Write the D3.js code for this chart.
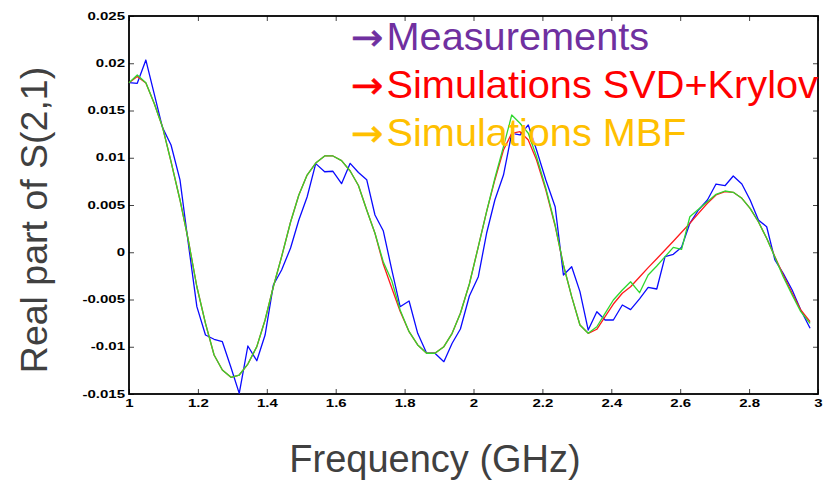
<!DOCTYPE html>
<html>
<head>
<meta charset="utf-8">
<script src="https://cdn.jsdelivr.net/npm/d3@7"></script>
<style>
  html, body { margin: 0; padding: 0; background: #fff; }
  svg { display: block; }
</style>
</head>
<body>
<svg id="chart" width="825" height="484"></svg>
<script>
// ---- data ----
const freq = [1.000,1.024,1.049,1.073,1.097,1.122,1.148,1.172,1.197,1.222,
  1.247,1.271,1.296,1.320,1.345,1.371,1.395,1.419,1.443,1.469,
  1.493,1.517,1.542,1.568,1.592,1.617,1.642,1.666,1.690,1.714,
  1.738,1.763,1.787,1.813,1.838,1.864,1.888,1.914,1.938,1.962,
  1.988,2.014,2.038,2.062,2.087,2.111,2.135,2.159,2.183,2.210,
  2.237,2.261,2.285,2.309,2.333,2.358,2.382,2.406,2.432,2.456,
  2.482,2.507,2.532,2.556,2.580,2.604,2.628,2.653,2.679,2.704,
  2.730,2.754,2.779,2.803,2.827,2.851,2.875,2.899,2.925,2.950,2.977];

const measurements = [0.01794,0.01788,0.02034,0.01678,0.01322,0.01135,0.00765,0.00098,-0.00576,-0.00876,
  -0.00921,-0.00947,-0.01220,-0.01493,-0.00992,-0.01148,-0.00876,-0.00347,-0.00188,0.00045,
  0.00341,0.00585,0.00938,0.00852,0.00857,0.00726,0.00941,0.00844,0.00768,0.00394,
  0.00228,-0.00188,-0.00576,-0.00516,-0.00858,-0.01069,-0.01069,-0.01158,-0.00963,-0.00812,
  -0.00463,-0.00259,0.00201,0.00553,0.00817,0.01259,0.01241,0.01347,0.01082,0.00765,
  0.00482,-0.00241,-0.00153,-0.00417,-0.00823,-0.00629,-0.00717,-0.00717,-0.00558,-0.00607,
  -0.00493,-0.00371,-0.00389,-0.00047,-0.00022,0.00052,0.00306,0.00447,0.00553,0.00722,
  0.00704,0.00807,0.00722,0.00553,0.00341,0.00270,-0.00082,-0.00223,-0.00399,-0.00611,-0.00805];

const svdKrylov = [0.01794,0.01860,0.01791,0.01576,0.01329,0.00958,0.00553,0.00130,-0.00365,-0.00752,
  -0.01087,-0.01246,-0.01323,-0.01299,-0.01183,-0.00999,-0.00717,-0.00365,-0.00047,0.00320,
  0.00606,0.00817,0.00944,0.01019,0.01019,0.00969,0.00860,0.00706,0.00447,0.00201,
  -0.00124,-0.00381,-0.00624,-0.00841,-0.00981,-0.01069,-0.01069,-0.00999,-0.00858,-0.00646,
  -0.00336,0.00059,0.00429,0.00765,0.01082,0.01259,0.01276,0.01188,0.00976,0.00659,
  0.00278,-0.00135,-0.00470,-0.00770,-0.00858,-0.00815,-0.00682,-0.00548,-0.00434,-0.00365,
  -0.00262,-0.00163,-0.00069,0.00024,0.00117,0.00211,0.00306,0.00412,0.00518,0.00606,
  0.00641,0.00634,0.00571,0.00465,0.00323,0.00148,-0.00047,-0.00241,-0.00434,-0.00611,-0.00735];

const mbf = [0.01794,0.01876,0.01794,0.01576,0.01329,0.00958,0.00553,0.00130,-0.00365,-0.00752,
  -0.01087,-0.01246,-0.01323,-0.01299,-0.01183,-0.00999,-0.00717,-0.00365,-0.00047,0.00320,
  0.00606,0.00817,0.00944,0.01019,0.01019,0.00969,0.00860,0.00706,0.00447,0.00201,
  -0.00100,-0.00304,-0.00611,-0.00841,-0.00981,-0.01069,-0.01069,-0.00999,-0.00858,-0.00646,
  -0.00336,0.00059,0.00429,0.00783,0.01117,0.01452,0.01365,0.01259,0.01011,0.00677,
  0.00288,-0.00135,-0.00470,-0.00770,-0.00858,-0.00788,-0.00646,-0.00505,-0.00399,-0.00312,
  -0.00428,-0.00241,-0.00146,-0.00047,0.00052,0.00031,0.00376,0.00455,0.00535,0.00613,
  0.00648,0.00634,0.00571,0.00465,0.00323,0.00148,-0.00053,-0.00259,-0.00452,-0.00629,-0.00752];

const xTicks = [1, 1.2, 1.4, 1.6, 1.8, 2, 2.2, 2.4, 2.6, 2.8, 3];
const xTickLabels = ["1","1.2","1.4","1.6","1.8","2","2.2","2.4","2.6","2.8","3"];
const yTicks = [0.025, 0.02, 0.015, 0.01, 0.005, 0, -0.005, -0.01, -0.015];
const yTickLabels = ["0.025","0.02","0.015","0.01","0.005","0","-0.005","-0.01","-0.015"];

const legendArrow = "\u2192";
const legendLabels = ["Measurements", "Simulations SVD+Krylov", "Simulations MBF"];
const legendColors = ["#7030A0", "#FF0000", "#FFC000"];
const xTitle = "Frequency (GHz)";
const yTitle = "Real part of S(2,1)";

// ---- drawing ----
const svg = d3.select("#chart");
svg.append("rect").attr("width", 825).attr("height", 484).attr("fill", "#fff");

const L = 129, R = 818, T = 16, B = 394;
const x = d3.scaleLinear().domain([1, 3]).range([L, R]);
const y = d3.scaleLinear().domain([-0.015, 0.025]).range([B, T]);

const SX = 1.5;
const tickFont = "'Liberation Sans', Arial, Helvetica, sans-serif";

// bottom axis
const gx = svg.append("g").attr("transform", `translate(0,${B})`)
  .call(d3.axisBottom(x).tickValues(xTicks).tickFormat((d, i) => xTickLabels[i])
    .tickSizeInner(-5).tickSizeOuter(0).tickPadding(6));
gx.select(".domain").remove();
gx.selectAll(".tick line").attr("stroke", "#444");
gx.selectAll(".tick text")
  .attr("font-family", tickFont).attr("font-size", 10).attr("font-weight", "bold").attr("fill", "#000")
  .attr("x", 0).attr("transform", `scale(${SX},1)`);

// left axis
const gy = svg.append("g").attr("transform", `translate(${L},0)`)
  .call(d3.axisLeft(y).tickValues(yTicks).tickFormat((d, i) => yTickLabels[i])
    .tickSizeInner(-5).tickSizeOuter(0).tickPadding(4));
gy.select(".domain").remove();
gy.selectAll(".tick line").attr("stroke", "#444");
gy.selectAll(".tick text")
  .attr("font-family", tickFont).attr("font-size", 10).attr("font-weight", "bold").attr("fill", "#000")
  .attr("x", -4 / SX).attr("transform", `scale(${SX},1)`);

// top axis (ticks only)
const gt = svg.append("g").attr("transform", `translate(0,${T})`)
  .call(d3.axisTop(x).tickValues(xTicks).tickFormat("").tickSizeInner(-5).tickSizeOuter(0));
gt.select(".domain").remove();
gt.selectAll(".tick line").attr("stroke", "#444");

// right axis (ticks only)
const gr = svg.append("g").attr("transform", `translate(${R},0)`)
  .call(d3.axisRight(y).tickValues(yTicks).tickFormat("").tickSizeInner(-5).tickSizeOuter(0));
gr.select(".domain").remove();
gr.selectAll(".tick line").attr("stroke", "#444");

// frame
svg.append("rect").attr("x", L).attr("y", T).attr("width", R - L).attr("height", B - T)
  .attr("fill", "none").attr("stroke", "#000").attr("stroke-width", 1.8);

// series
const line = d3.line().x(d => x(d[0])).y(d => y(d[1]));
const series = [
  { vals: measurements, color: "#0a0aff" },
  { vals: svdKrylov, color: "#ff1a1a" },
  { vals: mbf, color: "#2fd82f" }
];
series.forEach(s => {
  svg.append("path")
    .datum(freq.map((f, i) => [f, s.vals[i]]))
    .attr("d", line)
    .attr("fill", "none")
    .attr("stroke", s.color)
    .attr("stroke-width", 1.3)
    .attr("stroke-linejoin", "round");
});

// legend
const bigFont = "'Liberation Sans', Arial, Helvetica, sans-serif";
const LS = 1.045;
legendLabels.forEach((lab, i) => {
  const t = svg.append("text")
    .attr("x", 351 / LS).attr("y", 50.5 + i * 48)
    .attr("transform", `scale(${LS},1)`)
    .attr("font-family", bigFont).attr("font-size", 38)
    .attr("fill", legendColors[i]);
  t.append("tspan").attr("font-family", "'DejaVu Sans', sans-serif").attr("font-size", 37)
    .attr("stroke", legendColors[i]).attr("stroke-width", 0.6)
    .text(legendArrow);
  t.append("tspan").attr("dx", 3).text(lab);
});

// axis titles
svg.append("text")
  .attr("transform", "translate(47,220) rotate(-90)")
  .attr("text-anchor", "middle")
  .attr("font-family", bigFont).attr("font-size", 37.5)
  .attr("fill", "#404040")
  .text(yTitle);

svg.append("text")
  .attr("x", 435).attr("y", 472)
  .attr("text-anchor", "middle")
  .attr("font-family", bigFont).attr("font-size", 38)
  .attr("fill", "#404040")
  .text(xTitle);
</script>
</body>
</html>
